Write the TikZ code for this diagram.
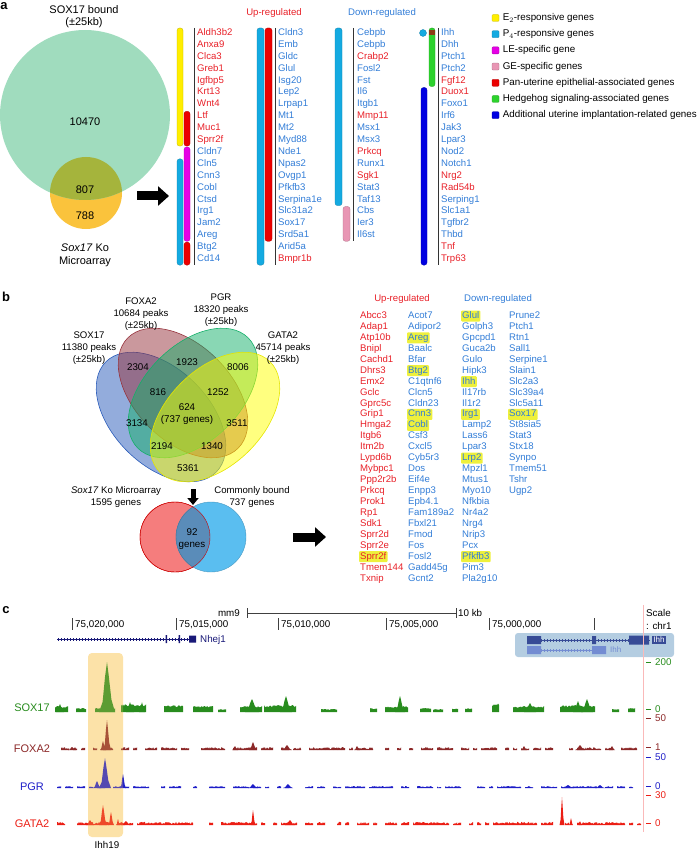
\documentclass[tikz,border=0pt]{standalone}
\usepackage{fontspec}
\setmainfont{Liberation Sans}
\usetikzlibrary{arrows.meta,positioning}

\definecolor{upred}{RGB}{232,32,40}
\definecolor{dnblue}{RGB}{50,125,215}
\definecolor{barcyan}{RGB}{20,170,225}
\definecolor{baryellow}{RGB}{255,238,0}
\definecolor{barmagenta}{RGB}{230,0,230}
\definecolor{barpink}{RGB}{232,150,180}
\definecolor{barred}{RGB}{235,0,0}
\definecolor{bargreen}{RGB}{45,210,45}
\definecolor{barblue}{RGB}{0,0,225}
\definecolor{barbrown}{RGB}{140,60,20}
\definecolor{hlyellow}{RGB}{238,240,60}
\definecolor{soxgreen}{RGB}{160,220,190}
\definecolor{koorange}{RGB}{250,195,60}
\definecolor{koolive}{RGB}{165,180,60}
\definecolor{vblue}{RGB}{40,90,185}
\definecolor{vred}{RGB}{150,50,60}
\definecolor{vgreen}{RGB}{20,175,105}
\definecolor{vyellow}{RGB}{255,255,0}
\definecolor{kored}{RGB}{245,125,125}
\definecolor{boundblue}{RGB}{90,190,240}
\definecolor{bothblue}{RGB}{90,140,185}
\definecolor{tsox}{RGB}{40,140,30}
\definecolor{tfoxa}{RGB}{140,40,40}
\definecolor{tpgr}{RGB}{30,30,200}
\definecolor{tgata}{RGB}{235,30,20}
\definecolor{genenavy}{RGB}{25,25,120}
\definecolor{ihhdark}{RGB}{55,75,150}
\definecolor{ihhlight}{RGB}{115,140,210}
\definecolor{ihhbox}{RGB}{180,205,225}
\definecolor{peakbox}{RGB}{253,234,188}
\definecolor{peaktint}{RGB}{250,205,110}
\definecolor{scalepink}{RGB}{250,185,185}

\newcommand{\genefont}{\fontsize{9.6}{11}\selectfont}

\tikzset{
  panel/.style={font=\bfseries\fontsize{13}{13}\selectfont, inner sep=0pt},
  gene/.style={anchor=west, inner sep=0pt, text height=7pt, text depth=2pt, font=\genefont},
  upg/.style={gene, text=upred},
  dng/.style={gene, text=dnblue},
  hlg/.style={fill=hlyellow, rounded corners=1pt, inner xsep=1.2pt, inner ysep=1pt, xshift=-1.2pt},
  upgh/.style={upg, hlg},
  dngh/.style={dng, hlg},
  bar/.style={rounded corners=2.5pt, line width=0.3pt},
  sepline/.style={line width=0.6pt, black!80},
  legbox/.style={rounded corners=1pt, line width=0.3pt, minimum size=7pt, inner sep=0pt},
  legtext/.style={font=\fontsize{9.8}{11}\selectfont, inner sep=0pt},
  vennnum/.style={font=\fontsize{11}{13}\selectfont, inner sep=0pt},
  vlabel/.style={font=\fontsize{9.6}{12}\selectfont, align=center, inner sep=0pt},
  bignum/.style={font=\fontsize{9.8}{12}\selectfont, align=center, inner sep=0pt},
  fatarrow/.style={line width=9pt, -{Triangle[length=11pt, width=19pt]}},
  tracklabel/.style={font=\fontsize{11}{12}\selectfont, inner sep=0pt},
  axisnum/.style={font=\fontsize{9.8}{11}\selectfont, anchor=west, inner sep=0pt},
}

% panel a gene bars: x1, x2, first row, last row, colour
\newcommand{\genebar}[5]{\filldraw[bar, fill=#5, draw=#5!75!black] (#1,{28+11.9*#3}) rectangle (#2,{39+11.9*#4});}

% panel c signal pieces
\newcommand{\segtrack}[3]{%
  \foreach \a/\b/\n in {#3}{
    \pgfmathtruncatemacro\ns{\b-\a+1}
    \fill[#2] (\a,#1) -- plot[domain=\a:\b, samples=\ns] (\x,{#1-\n*(0.7+0.3*rnd)}) -- (\b,#1) -- cycle;
  }}
\newcommand{\noisetrack}[4]{%
  \foreach \s in {57,61,...,637}{
    \pgfmathtruncatemacro\keep{rnd<#4}
    \ifnum\keep=1
      \fill[#2] (\s,#1) -- plot[domain=\s:\s+4, samples=5] (\x,{#1-#3*(0.3+0.7*rnd)}) -- (\s+4,#1) -- cycle;
    \fi}}
\newcommand{\peak}[5]{%
  \fill[#2] ({#3-#4},#1) -- ({#3-0.55*#4},{#1-0.2*#5}) -- ({#3-0.25*#4},{#1-0.7*#5})
    -- (#3,{#1-#5}) -- ({#3+0.2*#4},{#1-0.75*#5}) -- ({#3+0.55*#4},{#1-0.25*#5}) -- ({#3+#4},#1) -- cycle;}

\begin{document}
\begin{tikzpicture}[x=1pt, y=-1pt]
\useasboundingbox (0,0) rectangle (700,850);
\pgfmathsetseed{7}

% ---------------- a
\node[panel] (LabelA) at (4,6) {a};
\node[vennnum] (SoxBound) at (84,10) {SOX17 bound};
\node[vennnum, below=3pt of SoxBound] (SoxRange) {(±25kb)};
\fill[koorange] (86,193) circle (36);
\fill[soxgreen] (85,115) circle (85);
\begin{scope}
  \clip (86,193) circle (36);
  \fill[koolive] (85,115) circle (85);
\end{scope}
\node[vennnum] (SoxOnly) at (85,122) {10470};
\node[vennnum] (SoxKo) at (85,190) {807};
\node[vennnum] (KoOnly) at (85,216) {788};
\node[vennnum, align=center] (KoLabel) at (85,255) {\textit{Sox17} Ko\\Microarray};
\coordinate (ArrowAStart) at (137,196);
\coordinate (ArrowAEnd) at (169,196);
\draw[fatarrow] (ArrowAStart) -- (ArrowAEnd);

\node[gene, text=upred, anchor=center] (UpA) at (274,13) {Up-regulated};
\node[gene, text=dnblue, anchor=center] (DownA) at (382,13) {Down-regulated};

% column 1
\genebar{177}{183}{0}{9}{baryellow}
\genebar{184}{190}{7}{9}{barred}
\genebar{184}{190}{10}{17}{barmagenta}
\genebar{177}{183}{11}{19}{barcyan}
\genebar{184}{190}{18}{19}{barred}
\draw[sepline] (194,28) -- (194,265);
\foreach \g/\s [count=\i from 0] in {Aldh3b2/upg, Anxa9/upg, Clca3/upg, Greb1/upg, Igfbp5/upg,
  Krt13/upg, Wnt4/upg, Ltf/upg, Muc1/upg, Sprr2f/upg, Cldn7/dng, Cln5/dng, Cnn3/dng, Cobl/dng,
  Ctsd/dng, Irg1/dng, Jam2/dng, Areg/dng, Btg2/dng, Cd14/dng}
  \node[\s] (ColA\i) at (197,{33+11.9*\i}) {\g};

% column 2
\genebar{257}{264}{0}{19}{barcyan}
\genebar{265}{272}{0}{17}{barred}
\draw[sepline] (275,28) -- (275,265);
\foreach \g/\s [count=\i from 0] in {Cldn3/dng, Emb/dng, Gldc/dng, Glul/dng, Isg20/dng, Lep2/dng,
  Lrpap1/dng, Mt1/dng, Mt2/dng, Myd88/dng, Nde1/dng, Npas2/dng, Ovgp1/dng, Pfkfb3/dng,
  Serpina1e/dng, Slc31a2/dng, Sox17/dng, Srd5a1/dng, Arid5a/dng, Bmpr1b/upg}
  \node[\s] (ColB\i) at (278,{33+11.9*\i}) {\g};

% column 3
\genebar{335}{342}{0}{14}{barcyan}
\genebar{343}{350}{15}{17}{barpink}
\draw[sepline] (353,28) -- (353,241);
\foreach \g/\s [count=\i from 0] in {Cebpb/dng, Cebpb/dng, Crabp2/upg, Fosl2/dng, Fst/dng, Il6/dng,
  Itgb1/dng, Mmp11/upg, Msx1/dng, Msx3/dng, Prkcq/upg, Runx1/dng, Sgk1/upg, Stat3/dng,
  Taf13/dng, Cbs/dng, Ier3/dng, Il6st/dng}
  \node[\s] (ColC\i) at (357,{33+11.9*\i}) {\g};

% column 4
\filldraw[fill=barcyan, draw=barcyan!75!black, line width=0.3pt] (423,33) circle (3.5);
\genebar{429}{435}{0}{4}{bargreen}
\fill[barbrown] (429.4,30.5) rectangle (434.6,35);
\genebar{421}{427}{5}{19}{barblue}
\draw[sepline] (438,28) -- (438,265);
\foreach \g/\s [count=\i from 0] in {Ihh/dng, Dhh/dng, Ptch1/dng, Ptch2/dng, Fgf12/upg, Duox1/upg,
  Foxo1/dng, Irf6/dng, Jak3/dng, Lpar3/dng, Nod2/dng, Notch1/dng, Nrg2/upg, Rad54b/upg,
  Serping1/dng, Slc1a1/dng, Tgfbr2/dng, Thbd/dng, Tnf/upg, Trp63/upg}
  \node[\s] (ColD\i) at (441,{33+11.9*\i}) {\g};

% legend
\foreach \c/\t [count=\i from 0] in {baryellow/E$_2$-responsive genes, barcyan/P$_4$-responsive genes,
  barmagenta/LE-specific gene, barpink/GE-specific genes, barred/Pan-uterine epithelial-associated genes,
  bargreen/Hedgehog signaling-associated genes, barblue/Additional uterine implantation-related genes}{
  \node[legbox, fill=\c, draw=\c!75!black] (Key\i) at (495.5,{18+16.2*\i}) {};
  \node[legtext, anchor=west, right=3.5pt of Key\i] (KeyText\i) {\t};
}

% ---------------- b
\node[panel] (LabelB) at (6,297) {b};
\begin{scope}[fill opacity=0.5, line width=0.6pt]
  \filldraw[fill=vblue, draw=vblue, rotate around={-45:(161,417)}] (161,417) ellipse [x radius=78, y radius=48];
  \filldraw[fill=vred, draw=vred, rotate around={-45:(183,393)}] (183,393) ellipse [x radius=78, y radius=48];
  \filldraw[fill=vgreen, draw=vgreen, rotate around={45:(193,393)}] (193,393) ellipse [x radius=78, y radius=48];
  \filldraw[fill=vyellow, draw=vyellow!90!black, rotate around={45:(215,417)}] (215,417) ellipse [x radius=78, y radius=48];
\end{scope}
\node[vlabel] (SoxPeaks) at (89,348) {SOX17\\11380 peaks\\(±25kb)};
\node[vlabel] (FoxPeaks) at (141,314) {FOXA2\\10684 peaks\\(±25kb)};
\node[vlabel] (PgrPeaks) at (221,310) {PGR\\18320 peaks\\(±25kb)};
\node[vlabel] (GataPeaks) at (283,348) {GATA2\\45714 peaks\\(±25kb)};
\foreach \n/\x/\y [count=\i] in {2304/138/367, 1923/187/362, 8006/238/367, 816/158/392, 1252/218/392,
  3134/137/423, 3511/237/423, 2194/162/446, 1340/212/446, 5361/188/468}
  \node[bignum] (Region\i) at (\x,\y) {\n};
\node[bignum] (AllFour) at (187,414) {624\\(737 genes)};

\node[vlabel] (KoArray) at (116,497) {\textit{Sox17} Ko Microarray\\1595 genes};
\node[vlabel] (Common) at (252,497) {Commonly bound\\737 genes};
\coordinate (ArrowDownStart) at (193,489);
\coordinate (ArrowDownEnd) at (193,505);
\draw[line width=5pt, -{Triangle[length=7pt, width=11pt]}] (ArrowDownStart) -- (ArrowDownEnd);
\filldraw[fill=kored, draw=red!80!black, line width=0.4pt] (175,537) circle (35);
\filldraw[fill=boundblue, draw=boundblue!80!black, line width=0.4pt] (211,537) circle (35);
\begin{scope}
  \clip (175,537) circle (35);
  \filldraw[fill=bothblue, draw=bothblue!80!black, line width=0.4pt] (211,537) circle (35);
\end{scope}
\draw[red!80!black, line width=0.4pt] (175,537) circle (35);
\node[bignum] (Shared) at (192,539) {92\\genes};
\coordinate (ArrowBStart) at (293,537);
\coordinate (ArrowBEnd) at (326,537);
\draw[fatarrow] (ArrowBStart) -- (ArrowBEnd);

\node[gene, text=upred, anchor=center] (UpB) at (402,299) {Up-regulated};
\node[gene, text=dnblue, anchor=center] (DownB) at (498,299) {Down-regulated};
\foreach \g/\s [count=\i from 0] in {Abcc3/upg, Adap1/upg, Atp10b/upg, Bnipl/upg, Cachd1/upg, Dhrs3/upg,
  Emx2/upg, Gclc/upg, Gprc5c/upg, Grip1/upg, Hmga2/upg, Itgb6/upg, Itm2b/upg, Lypd6b/upg, Mybpc1/upg,
  Ppp2r2b/upg, Prkcq/upg, Prok1/upg, Rp1/upg, Sdk1/upg, Sprr2d/upg, Sprr2e/upg, Sprr2f/upgh,
  Tmem144/upg, Txnip/upg}
  \node[\s] (ListA\i) at (360,{316+10.94*\i}) {\g};
\foreach \g/\s [count=\i from 0] in {Acot7/dng, Adipor2/dng, Areg/dngh, Baalc/dng, Bfar/dng, Btg2/dngh,
  C1qtnf6/dng, Clcn5/dng, Cldn23/dng, Cnn3/dngh, Cobl/dngh, Csf3/dng, Cxcl5/dng, Cyb5r3/dng, Dos/dng,
  Eif4e/dng, Enpp3/dng, Epb4.1/dng, Fam189a2/dng, Fbxl21/dng, Fmod/dng, Fos/dng, Fosl2/dng,
  Gadd45g/dng, Gcnt2/dng}
  \node[\s] (ListB\i) at (408,{316+10.94*\i}) {\g};
\foreach \g/\s [count=\i from 0] in {Glul/dngh, Golph3/dng, Gpcpd1/dng, Guca2b/dng, Gulo/dng, Hipk3/dng,
  Ihh/dngh, Il17rb/dng, Il1r2/dng, Irg1/dngh, Lamp2/dng, Lass6/dng, Lpar3/dng, Lrp2/dngh, Mpzl1/dng,
  Mtus1/dng, Myo10/dng, Nfkbia/dng, Nr4a2/dng, Nrg4/dng, Nrip3/dng, Pcx/dng, Pfkfb3/dngh, Pim3/dng,
  Pla2g10/dng}
  \node[\s] (ListC\i) at (462,{316+10.94*\i}) {\g};
\foreach \g/\s [count=\i from 0] in {Prune2/dng, Ptch1/dng, Rtn1/dng, Sall1/dng, Serpine1/dng, Slain1/dng,
  Slc2a3/dng, Slc39a4/dng, Slc5a11/dng, Sox17/dngh, St8sia5/dng, Stat3/dng, Stx18/dng, Synpo/dng,
  Tmem51/dng, Tshr/dng, Ugp2/dng}
  \node[\s] (ListD\i) at (509,{316+10.94*\i}) {\g};

% ---------------- c
\node[panel] (LabelC) at (6,610) {c};
\node[axisnum, anchor=east] (Assembly) at (240,613) {mm9};
\draw[line width=0.7pt, black!75] (247,613) -- (456,613);
\draw[line width=0.7pt, black!75] (247,608) -- (247,618) (456,608) -- (456,618);
\node[axisnum] (TenKb) at (458,613) {10 kb};
\foreach \x/\t [count=\i] in {72/{75,020,000}, 176/{75,015,000}, 278/{75,010,000}, 386/{75,005,000}, 489/{75,000,000}}{
  \draw[black!75, line width=0.6pt] (\x,618) -- (\x,630);
  \node[axisnum] (Pos\i) at (\x+3,625) {\t};
}
\draw[black!75, line width=0.6pt] (594,618) -- (594,630);
\node[axisnum] (ScaleWord) at (646,613) {Scale};
\node[axisnum] (ChromWord) at (646,626) {: chr1};

% genes
\draw[genenavy, line width=0.6pt] (57,639) -- (189,639);
\draw[genenavy, line width=3pt, dash pattern=on 0.4pt off 2.6pt] (58,639) -- (188,639);
\fill[genenavy] (165.5,635) rectangle (167,643) (178.5,635) rectangle (180,643) (189,635.5) rectangle (196,642.5);
\node[axisnum, text=genenavy] (NhejName) at (200,640) {Nhej1};
\fill[ihhbox, rounded corners=3pt] (515,633) rectangle (674,657);
\draw[ihhdark, line width=0.6pt] (527,640) -- (650,640);
\draw[ihhdark, line width=3pt, dash pattern=on 0.4pt off 2.6pt] (541,640) -- (629,640);
\fill[ihhdark] (527,636) rectangle (541,644) (592,636) rectangle (596,644) (629,635.5) rectangle (649,644.5);
\node[fill=ihhdark, text=white, inner sep=1.2pt, font=\fontsize{8}{9}\selectfont, anchor=west] (IhhTag) at (652,640) {Ihh};
\draw[ihhlight, line width=0.6pt] (527,650) -- (606,650);
\draw[ihhlight, line width=3pt, dash pattern=on 0.4pt off 2.6pt] (541,650) -- (592,650);
\fill[ihhlight] (527,646) rectangle (541,654) (592,646) rectangle (606,654);
\node[text=ihhlight, inner sep=0pt, font=\fontsize{8}{9}\selectfont, anchor=west] (IhhIso) at (610,650) {Ihh};

\draw[scalepink, line width=0.7pt] (643,605) -- (643,832);
\fill[peakbox, rounded corners=4pt] (88,653) rectangle (123,837);

% tracks
\segtrack{712}{tsox}{55/68/6, 76/86/4, 95/115/4, 121/146/8, 164/183/7, 193/213/6, 218/226/3, 240/262/6,
  264/296/7, 321/337/3, 370/377/4, 385/408/6, 420/431/4, 433/443/3, 452/458/4, 465/472/4, 492/499/9,
  513/544/6, 560/595/7, 612/619/3, 628/635/4}
\foreach \c/\w/\p in {107/8/50, 60/4/8, 130/4/10, 142/3/10, 252/7/13, 286/6/16, 400/5/16, 530/6/9, 578/5/11, 587/6/13}
  {\peak{712}{tsox}{\c}{\w}{\p}}
\noisetrack{750}{tfoxa}{2.8}{0.62}
\foreach \c/\w/\p in {107/4/30, 103/3/9, 72/4/3, 235/3/4, 253/4/8, 287/5/5, 357/3/4, 524/3/4, 580/5/5, 612/3/4}
  {\peak{750}{tfoxa}{\c}{\w}{\p}}
\noisetrack{788}{tpgr}{2}{0.6}
\foreach \c/\w/\p in {105/6/30, 97/4/7, 123/3/14, 253/5/4, 288/5/4, 568/6/3, 600/5/3}
  {\peak{788}{tpgr}{\c}{\w}{\p}}
\noisetrack{825}{tgata}{3.2}{0.7}
\foreach \c/\w/\p in {103/4/20, 111/3/13, 118/2/6, 90/4/5, 126/5/4, 253/2.5/15, 290/5/5, 562/2.5/28, 571/2/7, 580/1.5/4}
  {\peak{825}{tgata}{\c}{\w}{\p}}

\fill[peaktint, fill opacity=0.25, rounded corners=4pt] (88,653) rectangle (123,837);
\node[axisnum, anchor=center] (PeakName) at (107,845) {Ihh19};

\node[tracklabel, text=tsox] (SoxTrack) at (32,708) {SOX17};
\node[tracklabel, text=tfoxa] (FoxTrack) at (32,749) {FOXA2};
\node[tracklabel, text=tpgr] (PgrTrack) at (32,787) {PGR};
\node[tracklabel, text=tgata] (GataTrack) at (32,824) {GATA2};

\foreach \y/\t/\c [count=\i] in {662/200/tsox, 709/0/tsox, 718/50/tfoxa, 747/1/tfoxa, 757/50/tpgr,
  786/0/tpgr, 795/30/tgata, 823/0/tgata}{
  \draw[\c, line width=0.7pt] (646,\y) -- (651,\y);
  \node[axisnum, text=\c] (Tick\i) at (655,\y) {\t};
}
\end{tikzpicture}
\end{document}
